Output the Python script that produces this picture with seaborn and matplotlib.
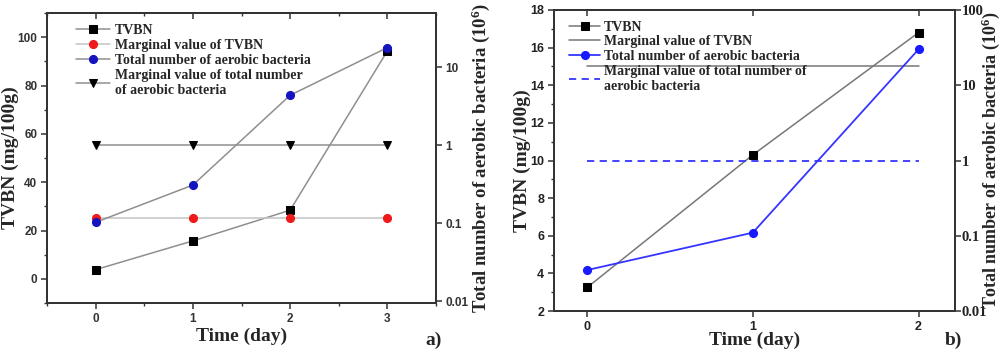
import matplotlib
matplotlib.use("Agg")
import matplotlib.pyplot as plt
import seaborn as sns
import numpy as np
from matplotlib.ticker import FixedLocator, MultipleLocator, NullLocator

# ---------------- data ----------------
days_a = [0, 1, 2, 3]
tvbn_a = [3.8, 15.7, 28.4, 94.3]
tvbn_limit_a = [25, 25, 25, 25]
bacteria_a = [0.103, 0.31, 4.4, 18.0]
bacteria_limit_a = [1, 1, 1, 1]

days_b = [0, 1, 2]
tvbn_b = [3.25, 10.3, 16.8]
tvbn_limit_b = [15, 15, 15]
bacteria_b = [0.035, 0.11, 30.0]
bacteria_limit_b = [1, 1, 1]

labels_a = ["TVBN", "Marginal value of TVBN", "Total number of aerobic bacteria",
            "Marginal value of total number\nof aerobic bacteria"]
labels_b = ["TVBN", "Marginal value of TVBN", "Total number of aerobic bacteria",
            "Marginal value of total number of\naerobic bacteria"]
log_ticks_a = [0.01, 0.1, 1, 10]
log_tick_labels_a = ["0.01", "0.1", "1", "10"]
log_ticks_b = [0.01, 0.1, 1, 10, 100]
log_tick_labels_b = ["0.01", "0.1", "1", "10", "100"]

xlabel = "Time (day)"
ylabel_left = "TVBN (mg/100g)"
ylabel_right = "Total number of aerobic bacteria (10$^6$)"

# ---------------- style ----------------
sns.set_style("ticks")
plt.rcParams["font.family"] = ["Liberation Serif", "DejaVu Serif"]
plt.rcParams["mathtext.fontset"] = "custom"
plt.rcParams["mathtext.rm"] = "Liberation Serif:bold"
plt.rcParams["mathtext.it"] = "Liberation Serif:bold"
plt.rcParams["mathtext.bf"] = "Liberation Serif:bold"

SERIF = "Liberation Serif"
SANS = "Liberation Sans"
SPINE = "#333333"

fig = plt.figure(figsize=(10, 3.53), dpi=100)

LABEL_FS = 14
LEG_FS = 10
MS = 5.2


def style_spines(ax):
    for s in ax.spines.values():
        s.set_color(SPINE)
        s.set_linewidth(1.3)


def top_ticks(ax, major, minor=None):
    sec = ax.secondary_xaxis("top")
    sec.set_xticks(major)
    sec.set_xticklabels([])
    if minor is not None:
        sec.xaxis.set_minor_locator(FixedLocator(minor))
    sec.tick_params(which="major", direction="in", length=4, width=1.1, color=SPINE)
    sec.tick_params(which="minor", direction="in", length=2.5, width=1.0, color=SPINE)
    sec.spines["top"].set_color(SPINE)
    sec.spines["top"].set_linewidth(1.3)
    return sec


# ================= panel a =================
ax = fig.add_axes([0.047, 50 / 353, 0.389, 290 / 353])
ax2 = ax.twinx()

grey = "#8f8f8f"
light = "#c4c4c4"
sns.lineplot(x=days_a, y=tvbn_a, ax=ax, color=grey, lw=1.1, marker="s", markersize=MS,
             markerfacecolor="black", markeredgecolor="black", label=labels_a[0], legend=False)
sns.lineplot(x=days_a, y=tvbn_limit_a, ax=ax, color=light, lw=1.1, marker="o", markersize=MS + 0.6,
             markerfacecolor="#ee1a1a", markeredgecolor="#ee1a1a", label=labels_a[1], legend=False)
sns.lineplot(x=days_a, y=bacteria_a, ax=ax2, color=grey, lw=1.1, marker="o", markersize=MS + 0.6,
             markerfacecolor="#1414c0", markeredgecolor="#1414c0", label=labels_a[2], legend=False)
sns.lineplot(x=days_a, y=bacteria_limit_a, ax=ax2, color=grey, lw=1.1, marker="v", markersize=MS + 0.6,
             markerfacecolor="black", markeredgecolor="black", label=labels_a[3], legend=False)

ax.set_xlim(-0.5, 3.5)
ax.set_ylim(-10, 110)
ax2.set_yscale("log")
ax2.set_ylim(0.0095, 50)

ax.set_xticks(days_a)
ax.xaxis.set_minor_locator(FixedLocator([-0.5, 0.5, 1.5, 2.5, 3.5]))
ax.set_yticks([0, 20, 40, 60, 80, 100])
ax.yaxis.set_minor_locator(MultipleLocator(10))
ax2.yaxis.set_major_locator(FixedLocator(log_ticks_a))
ax2.set_yticklabels(log_tick_labels_a)
ax2.yaxis.set_minor_locator(NullLocator())

for a in (ax, ax2):
    style_spines(a)
    a.tick_params(which="major", direction="out", length=4, width=1.1, color=SPINE,
                  labelsize=8.5, labelcolor="#333333", pad=3)
    a.tick_params(which="minor", direction="out", length=2.5, width=1.0, color=SPINE)
    for lbl in a.get_xticklabels() + a.get_yticklabels():
        lbl.set_fontfamily(SANS)
        lbl.set_fontweight("bold")
top_ticks(ax, days_a, [-0.5, 0.5, 1.5, 2.5, 3.5])

ax.set_xlabel(xlabel, fontsize=LABEL_FS, fontweight="bold", fontfamily=SERIF)
ax.set_ylabel(ylabel_left, fontsize=LABEL_FS, fontweight="bold", fontfamily=SERIF)
ax2.set_ylabel(ylabel_right, fontsize=13.5, fontweight="bold", fontfamily=SERIF)
ax.xaxis.set_label_coords(0.5, -0.085)
ax.yaxis.set_label_coords(-0.072, 0.5)
ax2.yaxis.set_label_coords(1.087, 0.5)

h1, l1 = ax.get_legend_handles_labels()
h2, l2 = ax2.get_legend_handles_labels()
ax2.legend(h1 + h2, l1 + l2, loc="upper left", bbox_to_anchor=(0.075, 0.962), frameon=False,
           prop={"family": SERIF, "weight": "bold", "size": LEG_FS}, handlelength=2.4,
           handletextpad=0.4, labelspacing=0.14, borderpad=0, borderaxespad=0)

fig.text(0.425, 0.037, "a)", fontsize=LABEL_FS, fontweight="bold", fontfamily=SERIF,
         va="center")

# ================= panel b =================
bx = fig.add_axes([0.554, 42 / 353, 0.401, 301 / 353])
bx2 = bx.twinx()

sns.lineplot(x=days_b, y=tvbn_b, ax=bx, color="#777777", lw=1.1, marker="s", markersize=MS,
             markerfacecolor="black", markeredgecolor="black", label=labels_b[0], legend=False)
sns.lineplot(x=days_b, y=tvbn_limit_b, ax=bx, color="#777777", lw=1.1,
             label=labels_b[1], legend=False)
sns.lineplot(x=days_b, y=bacteria_b, ax=bx2, color="#3535ff", lw=1.3, marker="o", markersize=MS + 0.6,
             markerfacecolor="#1a1aff", markeredgecolor="#1a1aff", label=labels_b[2], legend=False)
sns.lineplot(x=days_b, y=bacteria_limit_b, ax=bx2, color="#3535ff", lw=1.3, linestyle=(0, (4, 3)),
             label=labels_b[3], legend=False)

bx.set_xlim(-0.2, 2.22)
bx.set_ylim(2, 18)
bx2.set_yscale("log")
bx2.set_ylim(0.01, 100)

bx.set_xticks(days_b)
bx.xaxis.set_minor_locator(NullLocator())
bx.set_yticks(np.arange(2, 19, 2))
bx.yaxis.set_minor_locator(MultipleLocator(1))
bx2.yaxis.set_major_locator(FixedLocator(log_ticks_b))
bx2.set_yticklabels(log_tick_labels_b)
bx2.yaxis.set_minor_locator(NullLocator())

for a in (bx, bx2):
    style_spines(a)
    a.tick_params(which="major", direction="out", length=4, width=1.1, color=SPINE,
                  labelsize=9, labelcolor="#222222", pad=3)
    a.tick_params(which="minor", direction="out", length=2.5, width=1.0, color=SPINE)
for lbl in bx.get_xticklabels() + bx.get_yticklabels():
    lbl.set_fontfamily(SANS)
    lbl.set_fontweight("bold")
for lbl in bx2.get_yticklabels():
    lbl.set_fontfamily(SERIF)
    lbl.set_fontweight("bold")
    lbl.set_fontsize(10.5)
bx2.tick_params(axis="y", pad=1)
top_ticks(bx, days_b)

bx.set_xlabel(xlabel, fontsize=LABEL_FS, fontweight="bold", fontfamily=SERIF)
bx.set_ylabel(ylabel_left, fontsize=LABEL_FS, fontweight="bold", fontfamily=SERIF)
bx2.set_ylabel(ylabel_right, fontsize=13, fontweight="bold", fontfamily=SERIF)
bx.xaxis.set_label_coords(0.5, -0.07)
bx.yaxis.set_label_coords(-0.057, 0.5)
bx2.yaxis.set_label_coords(1.061, 0.5)

h1, l1 = bx.get_legend_handles_labels()
h2, l2 = bx2.get_legend_handles_labels()
bx2.legend(h1 + h2, l1 + l2, loc="upper left", bbox_to_anchor=(0.038, 0.965), frameon=False,
           prop={"family": SERIF, "weight": "bold", "size": LEG_FS}, handlelength=2.2,
           handletextpad=0.3, labelspacing=0.12, borderpad=0, borderaxespad=0)

fig.text(0.945, 0.037, "b)", fontsize=LABEL_FS, fontweight="bold", fontfamily=SERIF,
         va="center")

fig.savefig("out.png", dpi=100)
